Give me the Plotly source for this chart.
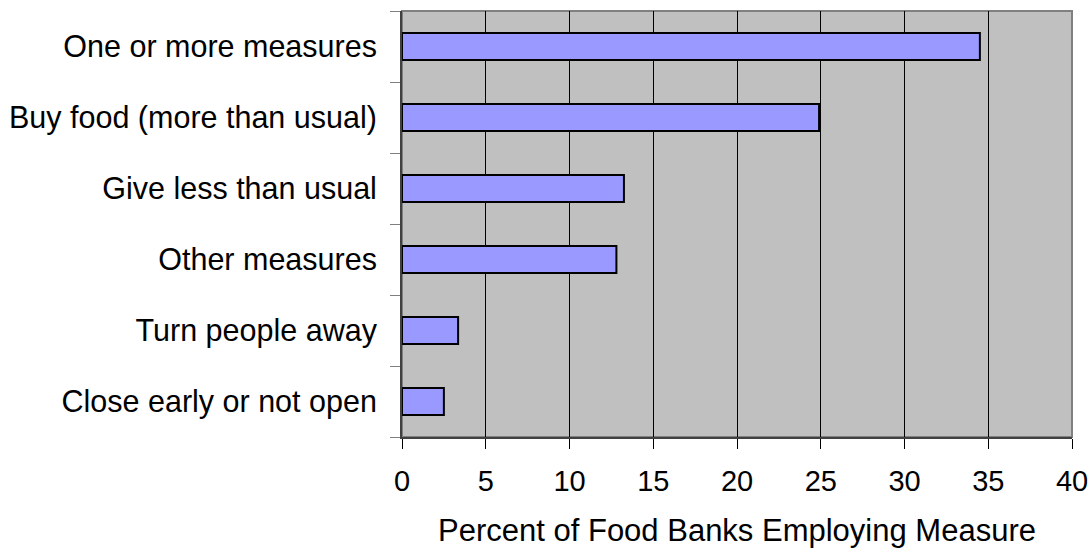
import plotly.graph_objects as go

categories = ["One or more measures", "Buy food (more than usual)", "Give less than usual",
              "Other measures", "Turn people away", "Close early or not open"]
values = [34.5, 24.9, 13.25, 12.8, 3.35, 2.5]
x_ticks = [0, 5, 10, 15, 20, 25, 30, 35, 40]

FONT = "Liberation Sans, Arial, sans-serif"

fig = go.Figure()
fig.add_trace(go.Bar(
    x=values, y=categories, orientation="h",
    marker=dict(color="#9999FF", line=dict(color="#000000", width=2)),
    hoverinfo="x+y",
))

fig.update_layout(
    width=1092, height=552,
    margin=dict(l=402, r=20, t=11, b=115),
    paper_bgcolor="white",
    plot_bgcolor="#C0C0C0",
    bargap=0.62,
    showlegend=False,
    font=dict(family=FONT, size=30, color="black"),
    xaxis=dict(
        range=[0, 40], tickvals=x_ticks, ticktext=[str(v) for v in x_ticks],
        showgrid=True, gridcolor="black", gridwidth=1,
        ticks="outside", ticklen=10, tickcolor="black", tickwidth=1,
        showline=True, linecolor="#404040", linewidth=2,
        zeroline=False, automargin=False,
        tickfont=dict(size=29),
        ticklabelstandoff=7,
        title=dict(text="Percent of Food Banks Employing Measure", font=dict(size=31), standoff=24),
    ),
    yaxis=dict(
        categoryorder="array", categoryarray=categories[::-1],
        tickson="boundaries",
        ticks="outside", ticklen=10, tickcolor="#808080", tickwidth=1,
        showline=True, linecolor="#404040", linewidth=2,
        showgrid=False, zeroline=False, automargin=False,
        tickfont=dict(size=30.5),
        ticklabelstandoff=17,
    ),
)

# Plot-area frame (top/right gray border like the Excel chart)
fig.add_shape(type="rect", xref="paper", yref="paper", x0=0, y0=0, x1=1, y1=1,
              line=dict(color="#808080", width=2), fillcolor="rgba(0,0,0,0)", layer="below")

fig.write_html("out.html", config={"displayModeBar": False},
               post_script="document.body.style.margin='0';document.body.style.overflow='hidden';")
